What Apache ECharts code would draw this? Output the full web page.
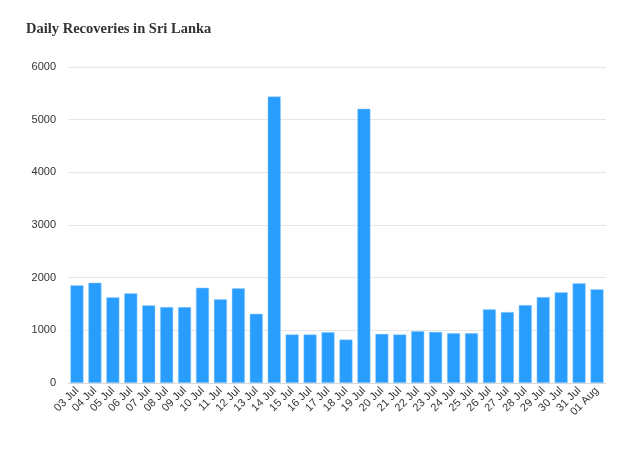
<!DOCTYPE html>
<html><head><meta charset="utf-8">
<script src="https://cdn.jsdelivr.net/npm/echarts@6/dist/echarts.min.js"></script>
<style>html,body{margin:0;padding:0;background:#fff}#c{width:625px;height:456px}</style>
</head><body><div id="c"></div>
<script>
var categories = ['03 Jul','04 Jul','05 Jul','06 Jul','07 Jul','08 Jul','09 Jul','10 Jul','11 Jul','12 Jul','13 Jul','14 Jul','15 Jul','16 Jul','17 Jul','18 Jul','19 Jul','20 Jul','21 Jul','22 Jul','23 Jul','24 Jul','25 Jul','26 Jul','27 Jul','28 Jul','29 Jul','30 Jul','31 Jul','01 Aug'];
var recoveries = [1855,1905,1627,1703,1474,1442,1442,1810,1589,1798,1314,5442,922,922,966,826,5208,933,922,985,971,947,947,1398,1347,1480,1632,1722,1893,1779];
var yTicks = {min:0, max:6000, interval:1000};
var chart = echarts.init(document.getElementById('c'));
chart.setOption({
  animation:false,
  title:{text:'Daily Recoveries in Sri Lanka', left:21, top:17,
    textStyle:{fontFamily:'Liberation Serif', fontWeight:'bold', fontSize:14.5, color:'#333'}},
  grid:{left:68, right:19, top:67, bottom:73},
  xAxis:{type:'category', data:categories,
    axisLine:{lineStyle:{color:'#d9d9d9'}},
    axisTick:{lineStyle:{color:'#d9d9d9'}},
    axisLabel:{rotate:45, fontSize:11, color:'#333', fontFamily:'Liberation Sans', interval:0, margin:6}},
  yAxis:{type:'value', min:yTicks.min, max:yTicks.max, interval:yTicks.interval,
    axisLine:{show:false}, axisTick:{show:false},
    axisLabel:{fontSize:11, color:'#333', fontFamily:'Liberation Sans', margin:12,
      formatter:function(v){return String(v);}},
    splitLine:{lineStyle:{color:'#e6e6e6'}}},
  series:[{type:'bar', data:recoveries, barCategoryGap:'27%',
    itemStyle:{color:'#299dfd', borderColor:'#9fd3fd', borderWidth:0.5}}]
});
</script></body></html>
